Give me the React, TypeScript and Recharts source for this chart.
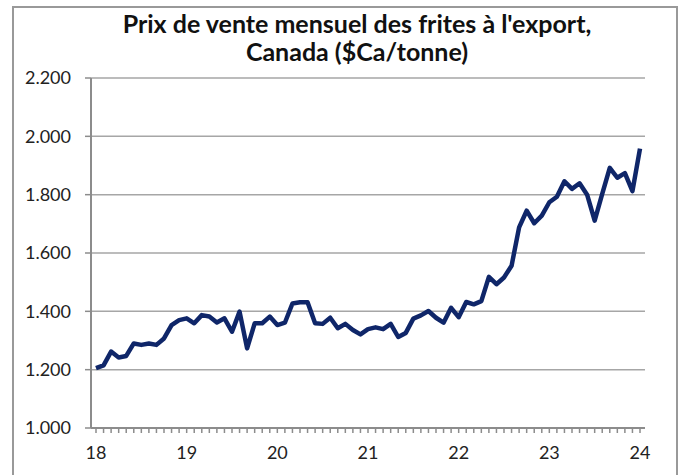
import { LineChart, Line, XAxis, YAxis, CartesianGrid } from 'recharts'

// prix mensuel, janv. 2018 -> janv. 2024 ($Ca/tonne)
const prix = [
  1205, 1215, 1262, 1242, 1247, 1290, 1285, 1290, 1285, 1307, 1353, 1370,
  1376, 1359, 1387, 1382, 1362, 1376, 1330, 1399, 1273, 1359, 1359, 1382,
  1353, 1361, 1427, 1431, 1431, 1359, 1357, 1378, 1342, 1357, 1336, 1321,
  1339, 1345, 1339, 1357, 1312, 1326, 1375, 1386, 1401, 1378, 1361, 1412,
  1380, 1432, 1424, 1435, 1518, 1493, 1516, 1556, 1688, 1745, 1702, 1728,
  1774, 1793, 1846, 1820, 1839, 1800, 1711, 1803, 1892, 1858, 1874, 1812,
  1958,
]
const annees = ['18', '19', '20', '21', '22', '23', '24']
const yTicks = [1000, 1200, 1400, 1600, 1800, 2000, 2200]

const data = prix.map((v, i) => ({ m: i, prix: v }))
const monthTicks = prix.map((_, i) => i)

const font = 'Lato, "Open Sans", sans-serif'

const fmt = (v: number) => `${Math.floor(v / 1000)}.${String(v % 1000).padStart(3, '0')}`

const YearTick = (props: any) => {
  const { x, y, payload } = props
  const m = payload.value
  if (m % 12 !== 0) return <g />
  return (
    <text x={x} y={y} dy="0.71em" textAnchor="middle" fontSize={18} fill="#222" fontFamily={font}>
      {annees[m / 12]}
    </text>
  )
}

export default function App() {
  return (
    <div style={{ position: 'absolute', left: 0, top: 0, width: 682, height: 475, background: '#fff', overflow: 'hidden' }}>
      <div style={{ position: 'absolute', left: 12, top: 6, width: 666, height: 480, border: '2px solid #999', boxSizing: 'border-box' }} />
      <div
        style={{
          position: 'absolute', left: 12, width: 690, top: 9, textAlign: 'center',
          fontFamily: font, fontWeight: 700, fontSize: 25, lineHeight: '28px', color: '#111',
        }}
      >
        Prix de vente mensuel des frites à l'export,
        <br />
        Canada ($Ca/tonne)
      </div>
      <div style={{ position: 'absolute', left: 0, top: 0 }}>
        <LineChart width={682} height={475} data={data} margin={{ top: 78, right: 37, left: 0, bottom: 17 }}>
          <CartesianGrid vertical={false} stroke="#a6a6a6" strokeWidth={1.5} />
          <XAxis
            dataKey="m"
            type="number"
            domain={[0, 72]}
            ticks={monthTicks}
            interval={0}
            padding={{ left: 5, right: 5 }}
            tick={<YearTick />}
            tickSize={5}
            tickMargin={13}
            axisLine={{ stroke: '#8c8c8c', strokeWidth: 2 }}
            tickLine={{ stroke: '#8c8c8c', strokeWidth: 1.5 }}
            height={30}
          />
          <YAxis
            domain={[1000, 2200]}
            ticks={yTicks}
            tickFormatter={fmt}
            width={91}
            tickSize={6}
            tickMargin={14}
            tick={{ fontSize: 18, fill: '#222', fontFamily: font }}
            axisLine={{ stroke: '#8c8c8c', strokeWidth: 2 }}
            tickLine={{ stroke: '#8c8c8c', strokeWidth: 1.5 }}
          />
          <Line
            type="linear"
            dataKey="prix"
            stroke="#0f2669"
            strokeWidth={4.5}
            dot={false}
            strokeLinejoin="round"
            isAnimationActive={false}
          />
        </LineChart>
      </div>
    </div>
  )
}
